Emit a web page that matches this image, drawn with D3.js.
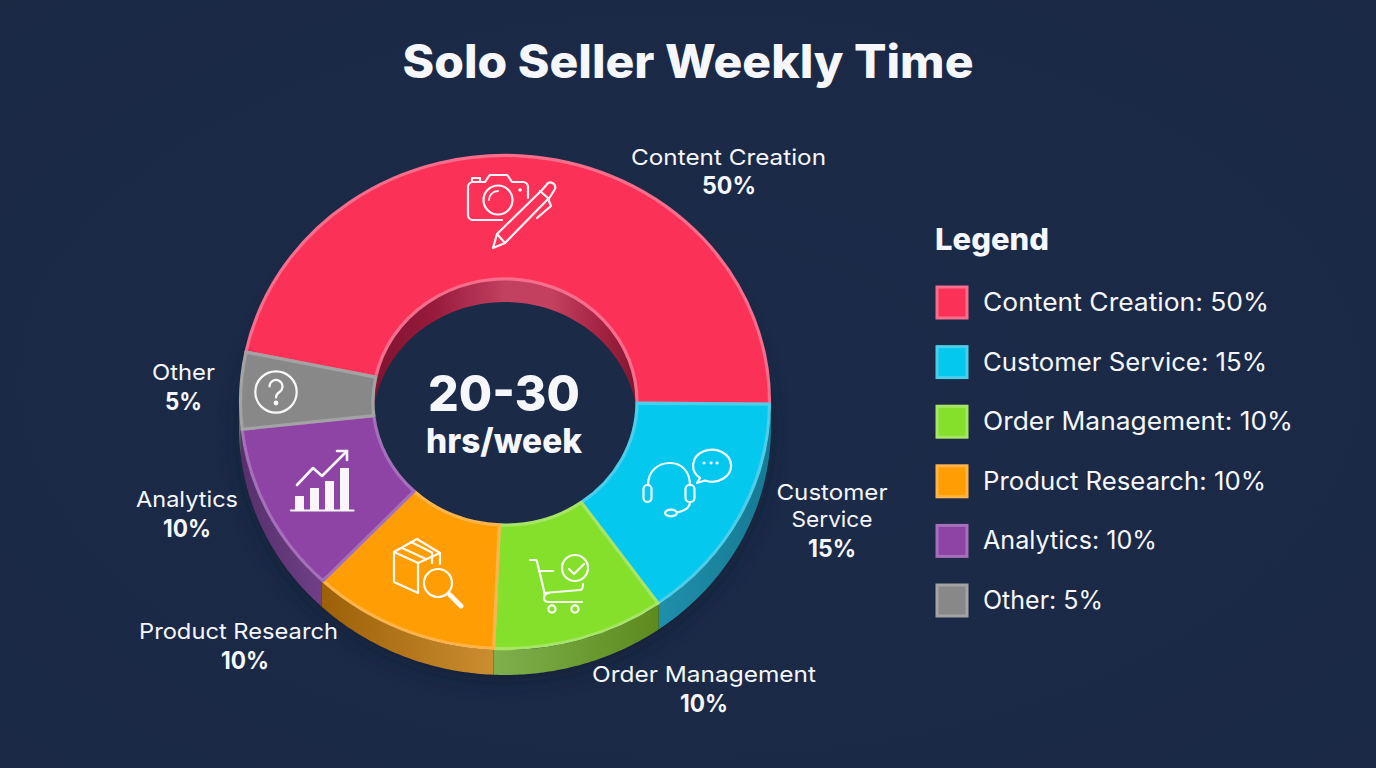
<!DOCTYPE html>
<html><head><meta charset="utf-8">
<script src="https://cdn.jsdelivr.net/npm/d3@7"></script>
<style>
html,body{margin:0;padding:0;background:#1b2a47;overflow:hidden}
svg{display:block}
text{font-family:Inter,"Noto Sans",sans-serif;fill:#f5f7fb}
</style></head><body>
<svg id="c" width="1376" height="768"></svg>
<script>
const titleText = "Solo Seller Weekly Time";
const centerLines = ["20-30","hrs/week"];
const legendTitle = "Legend";
const categories = ["Content Creation","Customer Service","Order Management","Product Research","Analytics","Other"];
const percents = [50,15,10,10,10,5];
// share of the ring each slice occupies as actually drawn in the picture
const drawnShares = [46.9,15.05,10.5,11.4,11.15,5];
const fills = ["#fb3157","#05c8ee","#85e02b","#ff9d05","#8e44a5","#888888"];
const edges = ["#f66e8b","#4ccde9","#a6e566","#ffb44a","#a66fb9","#a3a3a3"];
const wallStops = [
  ["#8a1530","#c54260"],["#1f8fab","#177a93"],["#7fb04c","#5c8a1e"],
  ["#9c6008","#cb8d30"],["#55316b","#6f3f87"],["#666666","#666666"]];

const svg = d3.select("#c");
const cx=505, cy=402, rx=266, ry=248, irx=133, iry=125, depth=24;
const defs = svg.append("defs");

// soft background
const bg = defs.append("radialGradient").attr("id","bg").attr("cx","50%").attr("cy","50%").attr("r","75%");
bg.append("stop").attr("offset","0%").attr("stop-color","#1c2b49");
bg.append("stop").attr("offset","100%").attr("stop-color","#1a2844");
svg.append("rect").attr("width",1376).attr("height",768).attr("fill","url(#bg)");

defs.append("filter").attr("id","soft").attr("x","-20%").attr("y","-20%").attr("width","140%").attr("height","140%")
  .append("feGaussianBlur").attr("stdDeviation",9);

// the red slice ends half a degree below the 3 o'clock line
const ringStart = Math.PI/2 + 0.5*Math.PI/180 - drawnShares[0]/100*2*Math.PI;
const pie = d3.pie().sort(null).value(d=>d.share)
  .startAngle(ringStart).endAngle(ringStart+2*Math.PI);
const rows = categories.map((c,i)=>({name:c,pct:percents[i],share:drawnShares[i],i}));
const arcs = pie(rows);

const px = (a,r,yr,off=0)=>[cx+r*Math.sin(a), cy-yr*Math.cos(a)+off];
const line = d3.line();
function band(a0,a1,r,yr){
  const steps = d3.range(0,61).map(k=>a0+(a1-a0)*k/60);
  const top = steps.map(a=>px(a,r,yr,0));
  const bot = steps.slice().reverse().map(a=>px(a,r,yr,depth+1));
  return line(top.concat(bot))+"Z";
}

// soft shadow under the disc
svg.append("ellipse").attr("cx",cx).attr("cy",cy+depth+6).attr("rx",rx+2).attr("ry",ry+2)
  .attr("fill","#111c33").attr("opacity",.55).attr("filter","url(#soft)");
svg.append("ellipse").attr("cx",cx).attr("cy",cy).attr("rx",irx).attr("ry",iry).attr("fill","#1b2a47");

// outer walls (lower half only)
const wallG = svg.append("g");
arcs.forEach(d=>{
  const lo = Math.max(d.startAngle,Math.PI/2), hi = Math.min(d.endAngle,3*Math.PI/2);
  const lo2 = Math.max(d.startAngle,Math.PI/2+2*Math.PI), hi2 = Math.min(d.endAngle,3*Math.PI/2+2*Math.PI);
  const a0 = hi>lo?lo:lo2, a1 = hi>lo?hi:hi2;
  if(a1<=a0) return;
  const id="w"+d.data.i;
  const x0=px(a1,rx,ry)[0], x1=px(a0,rx,ry)[0];
  const g=defs.append("linearGradient").attr("id",id).attr("gradientUnits","userSpaceOnUse")
    .attr("x1",Math.min(x0,x1)).attr("x2",Math.max(x0,x1)).attr("y1",0).attr("y2",0);
  g.append("stop").attr("offset","0%").attr("stop-color",wallStops[d.data.i][0]);
  g.append("stop").attr("offset","100%").attr("stop-color",wallStops[d.data.i][1]);
  wallG.append("path").attr("d",band(a0,a1,rx,ry)).attr("fill",`url(#${id})`);
});

// inner wall seen through the hole (upper half)
const ig = defs.append("linearGradient").attr("id","innerWall").attr("gradientUnits","userSpaceOnUse")
  .attr("x1",cx-irx).attr("x2",cx+irx).attr("y1",0).attr("y2",0);
[[0,"#7e1430"],[.22,"#96193a"],[.5,"#c24060"],[.68,"#c4405f"],[.88,"#a0203f"],[1,"#7a1730"]]
  .forEach(s=>ig.append("stop").attr("offset",s[0]).attr("stop-color",s[1]));
defs.append("clipPath").attr("id","hole").append("ellipse")
  .attr("cx",cx).attr("cy",cy).attr("rx",irx).attr("ry",iry);
svg.append("path").attr("clip-path","url(#hole)")
  .attr("d",band(-Math.PI/2,Math.PI/2,irx,iry)).attr("fill","url(#innerWall)");

// top faces
const arcGen = d3.arc().innerRadius(irx-1).outerRadius(rx-1.5);
const faces = svg.append("g").attr("transform",`translate(${cx},${cy}) scale(1,${ry/rx})`);
faces.selectAll("path").data(arcs).join("path")
  .attr("d",arcGen)
  .attr("fill",d=>fills[d.data.i])
  .attr("stroke",d=>edges[d.data.i])
  .attr("stroke-width",3.2)
  .attr("stroke-linejoin","round")
  .attr("vector-effect","non-scaling-stroke");

// icons
const ic = (x,y)=>svg.append("g").attr("transform",`translate(${x},${y})`)
  .attr("fill","none").attr("stroke","#fff").attr("stroke-width",2.2)
  .attr("stroke-linecap","round").attr("stroke-linejoin","round").attr("opacity",.95);
const P=(g,d,o={})=>{const p=g.append("path").attr("d",d);for(const k in o)p.attr(k,o[k]);return p;};
const C=(g,x,y,r,o={})=>{const p=g.append("circle").attr("cx",x).attr("cy",y).attr("r",r);for(const k in o)p.attr(k,o[k]);return p;};

// camera + pen
let g=ic(460,165);
P(g,"M42,55 H13 a5,5 0 0 1 -5,-5 V22 a5,5 0 0 1 5,-5 H25 L29,11 a2,2 0 0 1 2,-1 H46 a2,2 0 0 1 2,1 L52,17 H63 a5,5 0 0 1 5,5 V33");
P(g,"M12,16 V13 H20 V16");
C(g,38,35,14.5);
P(g,"M29,35 a9,9 0 0 1 9,-9",{"stroke-width":1.8});
C(g,60,25,1.5,{fill:"#fff","stroke-width":0.5});
P(g,"M33,83 L37,69 L82,25 L88,18 A5,5 0 0 1 95,24 L90,32 L45,78 Z");
P(g,"M37,69 L45,78 M80,26 L89,34");
P(g,"M89,36 L91,41 L77,53");

// headset + bubble
g=ic(630,440);
P(g,"M18,45 C18,31 28,23 40,23 C52,23 60,32 60,45");
g.append("rect").attr("x",13.5).attr("y",45).attr("width",8).attr("height",17).attr("rx",4);
g.append("rect").attr("x",55.5).attr("y",45).attr("width",9).attr("height",17).attr("rx",4);
P(g,"M60,62 C60,68 54,71 47,72.5");
g.append("ellipse").attr("cx",41).attr("cy",73).attr("rx",6).attr("ry",3.3);
P(g,"M70,38 A19,16 0 1 1 75,40.5 L67,43 Z");
[74,81,87].forEach(x=>C(g,x,23,1.3,{fill:"#fff","stroke-width":0.4}));

// cart + check
g=ic(520,545);
P(g,"M10,15 H15 a2,2 0 0 1 2,1.5 L25,50");
P(g,"M19,26 H33");
P(g,"M24,48 L60,45 Q63,45 63,39");
P(g,"M62,57 H29 Q24,57 24,53 Q24,49 29,48");
C(g,32,64,3.6); C(g,55,64,3.6);
C(g,55,23,13);
P(g,"M49,24 L54,29 L64,19");

// box + magnifier
g=ic(385,530);
P(g,"M32,9 L9,22 V52 L33,63 V33 L9,22 M33,33 L55,23 L32,9 M55,23 V34");
P(g,"M17,18 L41,29 M26,12 L47,22.5 V33");
C(g,53,53,14);
P(g,"M65,65 L76,76",{"stroke-width":5});

// question
g=ic(276,392);
C(g,0,0,20.7);
P(g,"M-6.5,-5.5 a6.5,6.5 0 1 1 10,5.5 c-2.5,1.6 -3.5,2.6 -3.5,5.5",{"stroke-width":2.2});
C(g,0,11,1.3,{fill:"#fff"});

// analytics
g=ic(0,0);
P(g,"M291,510.5 H353.5");
[[295,496],[310,488],[325,481],[340,468]].forEach(b=>
  g.append("rect").attr("x",b[0]).attr("y",b[1]).attr("width",9).attr("height",510-b[1]).attr("fill","#fff").attr("stroke","none"));
P(g,"M297,485 L313,468 L322,476 L347,451",{"stroke-width":2.6});
P(g,"M337,451 H347 V460",{"stroke-width":2.6});

// slice label placement
const labelLayout = [
  {lines:["Content Creation"],x:728.5,y:[165],w:[195],px:729,py:194,pw:54},
  {lines:["Customer","Service"],x:832,y:[500,527],w:[111,81],px:832,py:557,pw:48},
  {lines:["Order Management"],x:704,y:[682],w:[224],px:704,py:712,pw:48},
  {lines:["Product Research"],x:238.5,y:[639],w:[199],px:245,py:669,pw:48},
  {lines:["Analytics"],x:187,y:[507],w:[102],px:187,py:537,pw:48},
  {lines:["Other"],x:183.5,y:[380],w:[63],px:183.5,py:410,pw:37}];
const T=(s,x,y,size,weight,anchor,len)=>{
  const t=svg.append("text").attr("x",x).attr("y",y).attr("font-size",size).attr("font-weight",weight)
    .attr("text-anchor",anchor).text(s);
  if(len) t.attr("textLength",len).attr("lengthAdjust","spacingAndGlyphs");
  return t;
};
labelLayout.forEach((l,i)=>{
  l.lines.forEach((s,k)=>T(s,l.x,l.y[k],22,400,"middle",l.w[k]));
  T(percents[i]+"%",l.px,l.py,24,700,"middle",l.pw);
});

// title + centre
T(titleText,688,78,46,800,"middle",571);
T(centerLines[0],504,411,50,800,"middle",152);
T(centerLines[1],504,453,34,800,"middle",156);

// legend
T(legendTitle,935,250,30,800,"start",114);
const legendY = d3.scalePoint().domain(categories).range([302,600]);
const legendWidths = [286,284,310,283,174,120];
const lg = svg.append("g");
categories.forEach((c,i)=>{
  const y=legendY(c);
  lg.append("rect").attr("x",937).attr("y",y-15).attr("width",30).attr("height",31)
    .attr("fill",fills[i]).attr("stroke",edges[i]).attr("stroke-width",3);
  T(`${c}: ${percents[i]}%`,983,y+9,25,400,"start",legendWidths[i]);
});
</script>
</body></html>
